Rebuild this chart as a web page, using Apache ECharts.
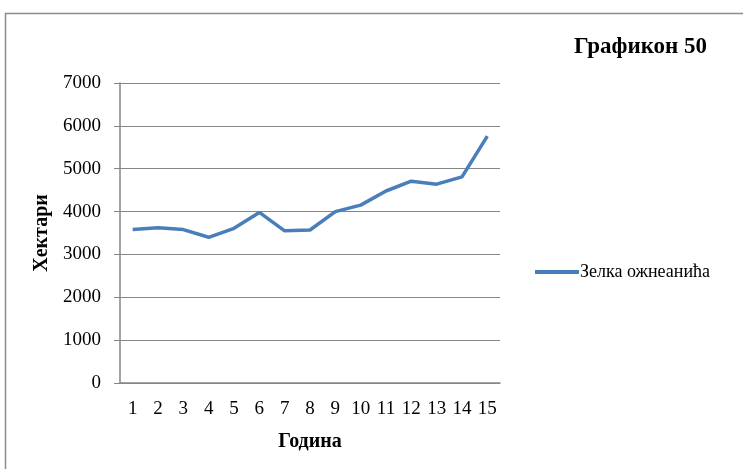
<!DOCTYPE html>
<html><head><meta charset="utf-8">
<script src="https://cdn.jsdelivr.net/npm/echarts@6/dist/echarts.min.js"></script>
<style>html,body{margin:0;padding:0;background:#fff}#c{width:743px;height:469px}</style>
</head><body><div id="c"></div>
<script>
const categories = ['1','2','3','4','5','6','7','8','9','10','11','12','13','14','15'];
const values = [3580, 3620, 3580, 3400, 3610, 3980, 3550, 3570, 4000, 4150, 4480, 4710, 4640, 4810, 5760];
const seriesName = 'Зелка ожнеанића';
const titleText = 'Графикон 50';
const xName = 'Година';
const yName = 'Хектари';

const font = 'Liberation Serif';
const chart = echarts.init(document.getElementById('c'), null, {renderer: 'canvas'});
chart.setOption({
  backgroundColor: '#fff',
  animation: false,
  graphic: [{
    type: 'polyline', silent: true,
    shape: {points: [[5.5, 469], [5.5, 13.5], [743, 13.5]]},
    style: {stroke: '#8c8c8c', lineWidth: 1.5, fill: null}
  }],
  title: {
    text: titleText, left: 569, top: 31,
    textStyle: {fontFamily: font, fontSize: 23, fontWeight: 'bold', color: '#000'}
  },
  legend: {
    data: [{name: seriesName, icon: 'rect'}],
    left: 530, top: 258,
    itemWidth: 44, itemHeight: 4, itemGap: 4,
    textStyle: {fontFamily: font, fontSize: 18, color: '#000', padding: [0,0,0,-4]}
  },
  grid: {left: 120, right: 243, top: 83, bottom: 86, containLabel: false},
  xAxis: {
    type: 'category', data: categories, boundaryGap: true,
    name: xName, nameLocation: 'middle', nameGap: 49,
    nameTextStyle: {fontFamily: font, fontSize: 20, fontWeight: 'bold', color: '#000'},
    axisLine: {lineStyle: {color: '#868686', width: 1.5}},
    axisTick: {show: false},
    axisLabel: {fontFamily: font, fontSize: 19, color: '#000', margin: 17, interval: 0}
  },
  yAxis: {
    type: 'value', min: 0, max: 7000, interval: 1000,
    name: yName, nameLocation: 'middle', nameGap: 62, nameRotate: 90,
    nameTextStyle: {fontFamily: font, fontSize: 20, fontWeight: 'bold', color: '#000'},
    axisLine: {show: true, lineStyle: {color: '#868686', width: 1.5}},
    axisTick: {show: true, length: 6, lineStyle: {color: '#868686'}},
    axisLabel: {fontFamily: font, fontSize: 19, color: '#000', margin: 19,
      formatter: v => String(v)},
    splitLine: {lineStyle: {color: '#868686', width: 1}}
  },
  series: [{
    name: seriesName, type: 'line', data: values,
    showSymbol: false, symbol: 'none',
    lineStyle: {color: '#4a7ebb', width: 3.5},
    itemStyle: {color: '#4a7ebb'}
  }]
});
</script></body></html>
